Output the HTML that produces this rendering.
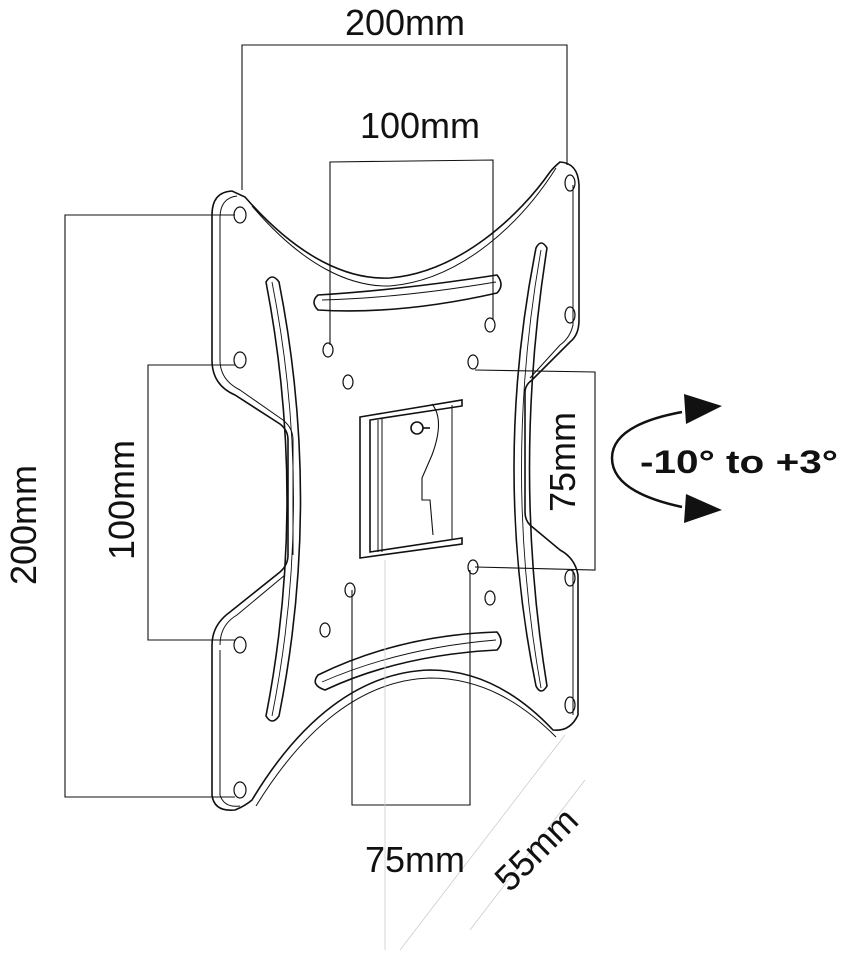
<!DOCTYPE html>
<html><head><style>body{margin:0;background:#fff}svg{display:block}</style></head>
<body>
<svg width="846" height="960" viewBox="0 0 846 960" xmlns="http://www.w3.org/2000/svg" font-family="Liberation Sans, sans-serif">
<g fill="none" stroke="#111" stroke-width="1.6">
<!-- plate outline -->
<path d="M232,191 Q212,192 212,215 L212,360 Q212,385 235,395 L280,424 Q288,430 288,440 L288,555 Q288,565 280,572 L230,612 Q212,625 212,645 L212,795 Q214,812 235,810 Q245,806 252,800 C300,720 360,672 430,670 C480,670 520,695 553,730 Q570,732 578,715 L578,575 Q575,558 560,550 L530,525 Q525,520 525,512 L525,392 Q525,385 532,380 L570,342 Q579,335 579,320 L579,185 Q578,163 560,162 Q553,168 550,172 C520,215 460,272 390,278 C350,280 300,260 245,197 Z"/>
<path d="M237,196 Q220,198 220,218 L220,360 Q220,380 240,390 L283,420 Q293,428 293,440 L293,555" stroke-width="1"/>
<path d="M220,645 Q220,625 237,615 L285,575" stroke-width="1"/>
<path d="M220,650 L220,795 Q224,808 240,806" stroke-width="1"/>
<path d="M252,206 C305,268 352,287 390,286 C462,280 522,222 556,168" stroke-width="1"/>
<path d="M256,806 C304,728 362,680 430,678 C482,678 522,703 556,737" stroke-width="1"/>
<path d="M573,570 L573,715" stroke-width="1"/>
<path d="M573,185 L573,325 Q570,338 560,345 L530,378" stroke-width="1"/>
<!-- holes -->
<g stroke-width="1.2">
<ellipse cx="240" cy="215" rx="6" ry="8"/><ellipse cx="240" cy="360" rx="6" ry="8"/>
<ellipse cx="240" cy="645" rx="6" ry="8"/><ellipse cx="240" cy="790" rx="6" ry="8"/>
<ellipse cx="570" cy="183" rx="5" ry="8"/><ellipse cx="570" cy="315" rx="5" ry="8"/>
<ellipse cx="570" cy="578" rx="5" ry="8"/><ellipse cx="570" cy="705" rx="5" ry="8"/>
<ellipse cx="328" cy="350" rx="5" ry="7"/><ellipse cx="348" cy="382" rx="5" ry="7"/>
<ellipse cx="490" cy="325" rx="5" ry="7"/><ellipse cx="473" cy="362" rx="5" ry="7"/>
<ellipse cx="350" cy="590" rx="5" ry="7"/><ellipse cx="325" cy="630" rx="5" ry="7"/>
<ellipse cx="473" cy="567" rx="5" ry="7"/><ellipse cx="490" cy="598" rx="5" ry="7"/>
</g>
<!-- slots -->
<path d="M318,295 Q400,290 497,275 Q505,285 497,293 Q400,315 318,310 Q310,302 318,295 Z"/>
<path d="M322,300 Q400,298 496,282" stroke-width="0.9"/>
<path d="M318,675 Q400,635 497,632 Q505,642 497,650 Q400,655 325,690 Q310,685 318,675 Z"/>
<path d="M322,682 Q400,648 496,640" stroke-width="0.9"/>
<path d="M266,282 Q272,272 279,282 Q322,500 279,716 Q272,726 266,716 Q308,500 266,282 Z"/>
<path d="M272,282 Q315,500 272,716" stroke-width="0.9"/>
<path d="M536,248 Q541,238 547,248 Q512,470 547,686 Q541,696 536,686 Q492,470 536,248 Z"/>
<path d="M541,250 Q502,470 541,688" stroke-width="0.9"/>
<!-- bracket -->
<path d="M360,417 L462,400 L462,406 L370,420 L370,552 L462,538 L462,544 L360,558 Z"/>
<path d="M382,418 L382,552 M452,405 L452,540 M378,420 L378,552" stroke-width="1"/>
<path d="M432,404 Q445,420 432,455 L422,478 L422,500 L430,500 L433,535" stroke-width="1.1"/>
<circle cx="417" cy="428" r="6"/><path d="M423,428 L430,428"/>
<!-- dimension lines -->
<g stroke-width="1.1">
<path d="M242,190 L242,45 L567,45 L567,165"/>
<path d="M330,345 L330,162 L493,160 L493,320"/>
<path d="M235,215 L65,215 L65,797 L235,797"/>
<path d="M235,365 L148,365 L148,640 L235,640"/>
<path d="M475,370 L595,372 L595,570 L475,567"/>
<path d="M352,590 L352,805 L470,805 L470,570"/>
</g>
<g stroke="#ccc" stroke-width="0.8">
<path d="M565,735 L400,950"/><path d="M585,780 L470,930"/><path d="M385,560 L385,950"/>
</g>
<!-- rotation arrow -->
<path d="M682,412 Q612,425 612,458 Q612,492 682,507" stroke-width="2.5"/>
</g>
<polygon points="722,406 684,394 686,424" fill="#111"/>
<polygon points="722,510 686,494 684,523" fill="#111"/>
<g fill="#111" font-size="36">
<text x="405" y="35" text-anchor="middle">200mm</text>
<text x="420" y="138" text-anchor="middle">100mm</text>
<text x="415" y="872" text-anchor="middle">75mm</text>
<text transform="translate(36,525) rotate(-90)" text-anchor="middle">200mm</text>
<text transform="translate(134,500) rotate(-90)" text-anchor="middle">100mm</text>
<text transform="translate(575,462) rotate(-90)" text-anchor="middle">75mm</text>
<text transform="translate(545,858) rotate(-45)" text-anchor="middle">55mm</text>
<text x="640" y="473" font-size="32" font-weight="bold" textLength="198" lengthAdjust="spacingAndGlyphs">-10° to +3°</text>
</g>
</svg>
</body></html>
